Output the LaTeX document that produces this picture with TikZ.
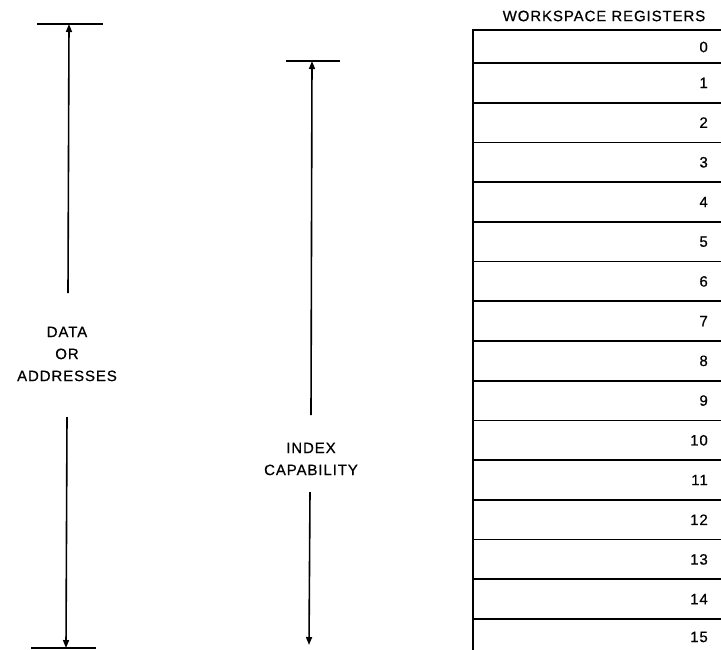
\documentclass[tikz,border=0pt]{standalone}
\usepackage{fontspec}
\setmainfont{Liberation Sans}
\newfontfamily\lsfont[LetterSpace=6,FakeBold=0.6]{Liberation Sans}
\usetikzlibrary{arrows.meta}
\begin{document}
\begin{tikzpicture}[x=1pt,y=-1pt,
  bar/.style={line width=2.2pt},
  vline/.style={line width=1.6pt},
  arr/.style={vline,-{Triangle[length=8pt,width=6pt]}},
  lbl/.style={font=\fontsize{15}{22}\selectfont\lsfont,align=center,inner sep=0pt},
  reg/.style={draw,line width=1.8pt,minimum width=270pt,anchor=north west,inner sep=0pt,outer sep=0pt},
  num/.style={font=\fontsize{15}{16}\selectfont\lsfont,anchor=east,inner sep=0pt}]
\useasboundingbox (0,0) rectangle (721,649);
% left dimension
\coordinate (lt) at (69,24);
\coordinate (lb) at (66,648);
\coordinate (lbrk1) at (68,293);
\coordinate (lbrk2) at (67,417);
\draw[bar] (37,24) -- (103,24);
\draw[bar] (31,648) -- (96,648);
\node[lbl] (data) at (67,354) {DATA\\OR\\ADDRESSES};
\draw[arr] (lbrk1) -- (lt);
\draw[arr] (lbrk2) -- (lb);
% middle dimension
\coordinate (mt) at (312,61);
\coordinate (mb) at (309,645);
\coordinate (mbrk1) at (311,415);
\coordinate (mbrk2) at (310,492);
\draw[bar] (286,61) -- (340,61);
\node[lbl] (index) at (311,459) {INDEX\\CAPABILITY};
\draw[arr] (mbrk1) -- (mt);
\draw[arr] (mbrk2) -- (mb);
% registers
\node[font=\fontsize{15}{16}\selectfont\lsfont,inner sep=0pt] (title) at (604,16) {WORKSPACE REGISTERS};
\node[reg,minimum height=33pt] (r0) at (473,30) {};
\node[num] at (708,47) {0};
\foreach \k in {1,...,14}{
  \pgfmathsetmacro\top{63+(\k-1)*39.714}
  \pgfmathsetmacro\mid{\top+19.857}
  \node[reg,minimum height=39.714pt] (r\k) at (473,\top) {};
  \node[num] at (708,\mid) {\k};
}
\node[reg,minimum height=45pt] (r15) at (473,619) {};
\node[num] at (708,637) {15};
\end{tikzpicture}
\end{document}
